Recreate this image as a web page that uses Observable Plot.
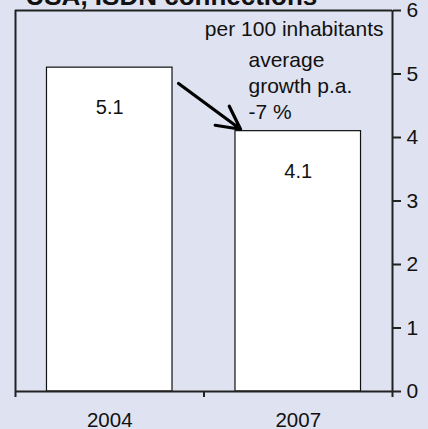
<!DOCTYPE html>
<html>
<head>
<meta charset="utf-8">
<script src="https://cdn.jsdelivr.net/npm/d3@7"></script>
<script src="https://cdn.jsdelivr.net/npm/@observablehq/plot@0.6"></script>
<style>
  html, body { margin: 0; padding: 0; background: #dfe2f0; overflow: hidden; }
  #chart svg { display: block; overflow: visible; }
</style>
</head>
<body>
<div id="chart"></div>
<script>
const title = "USA, ISDN connections";
const unitNote = "per 100 inhabitants";
const categories = ["2004", "2007"];
const values = [5.1, 4.1];
const yTicks = [0, 1, 2, 3, 4, 5, 6];
const growthNote = "average\ngrowth p.a.\n-7 %";
const growthNotePos = [{x: 0.736, y: 5.40}];
const arrowPos = [{x1: 0.365, y1: 4.85, x2: 0.694, y2: 4.13}];

const bars = categories.map((c, i) => ({i, c, v: values[i]}));
const font = "'Liberation Sans', Arial, sans-serif";

const chart = Plot.plot({
  width: 428,
  height: 429,
  marginTop: 10,
  marginBottom: 38,
  marginLeft: 15,
  marginRight: 36,
  style: {background: "#dfe2f0", fontFamily: font, fontSize: "21px", color: "#111"},
  x: {domain: [-0.5, categories.length - 0.5]},
  y: {domain: [0, 6]},
  marks: [
    Plot.rectY(bars, {x1: d => d.i - 0.333, x2: d => d.i + 0.333, y: "v", fill: "white", stroke: "#111", strokeWidth: 1.2}),
    Plot.text(bars, {x: "i", y: "v", text: d => d.v.toFixed(1), dy: 40, fontSize: 20, fill: "#111"}),
    Plot.ruleY([0, 6], {stroke: "#222", strokeWidth: 2}),
    Plot.ruleX([-0.5, categories.length - 0.5], {y1: 0, y2: 6, stroke: "#222", strokeWidth: 2}),
    Plot.axisY(yTicks, {anchor: "right", tickSize: 8, tickPadding: 6, tickFormat: d3.format("d"), fontSize: 21, strokeWidth: 2, stroke: "#222", fill: "#111"}),
    Plot.axisX([-0.5, 0.5, 1.5], {tickSize: 6, tickFormat: () => "", strokeWidth: 2, stroke: "#222"}),
    Plot.axisX(categories.map((c, i) => i), {tickSize: 0, tickPadding: 21, tickFormat: i => categories[i], fontSize: 20.5, fill: "#111"}),
    Plot.text([title], {frameAnchor: "top-left", dx: 10, dy: -6, lineAnchor: "bottom", fontWeight: "bold", fontSize: 26, fill: "#111"}),
    Plot.text([unitNote], {frameAnchor: "top-right", dx: -9, dy: 25, lineAnchor: "bottom", fontSize: 21, fill: "#111"}),
    Plot.text(growthNotePos, {x: "x", y: "y", text: () => growthNote, textAnchor: "start", lineAnchor: "top", lineHeight: 1.24, fontSize: 21, fill: "#111"}),
    Plot.arrow(arrowPos, {x1: "x1", y1: "y1", x2: "x2", y2: "y2", stroke: "#000", strokeWidth: 3.2, headLength: 16, headAngle: 55})
  ]
});
document.getElementById("chart").appendChild(chart);
</script>
</body>
</html>
